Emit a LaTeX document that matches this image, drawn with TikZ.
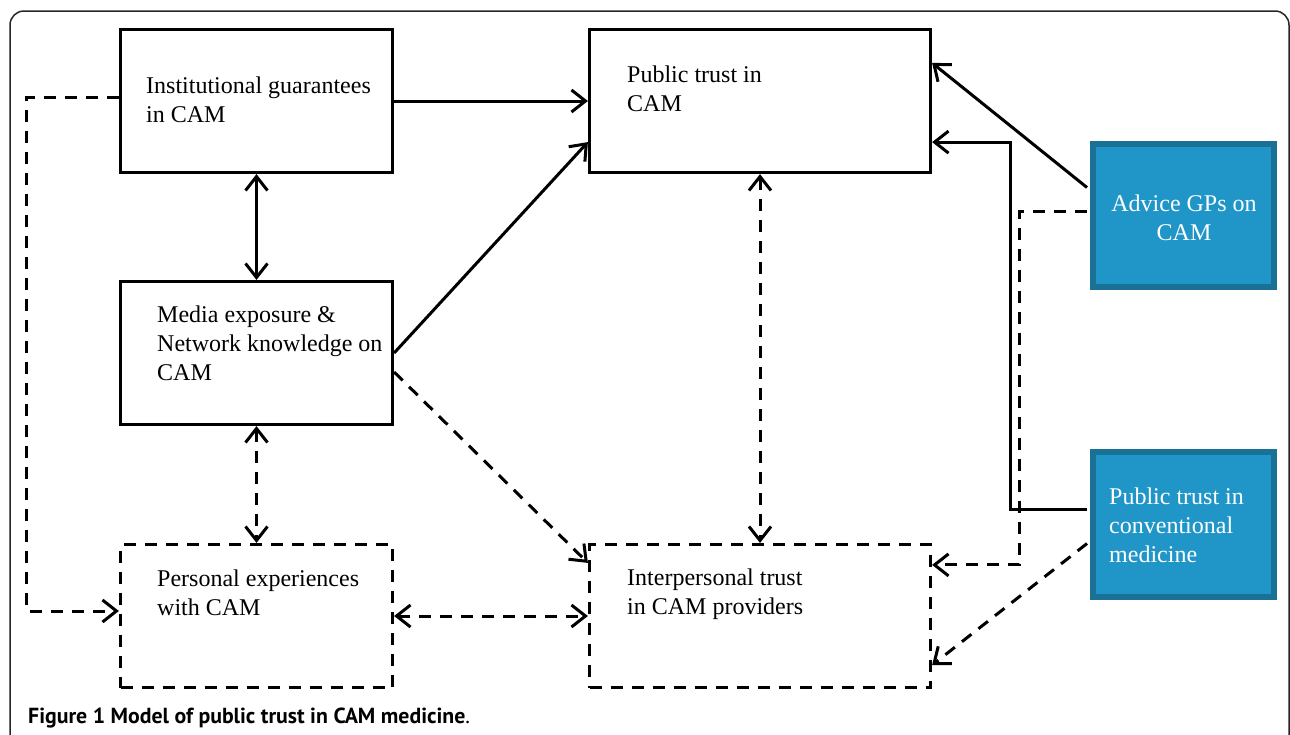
\documentclass[tikz,border=0pt]{standalone}
\usepackage{fontspec}
\setmainfont{Liberation Serif}
\newfontfamily\capfont{PT Sans}
\usetikzlibrary{arrows.meta,calc}
\definecolor{boxblue}{RGB}{32,150,200}
\definecolor{boxedge}{RGB}{27,112,150}
\tikzset{
  box/.style={draw=black, line width=3.2pt, rectangle, inner sep=0pt},
  dbox/.style={box, dash pattern=on 12pt off 9pt},
  bbox/.style={draw=boxedge, fill=boxblue, line width=6pt, rectangle, inner sep=0pt},
  lbl/.style={anchor=base west, inner sep=0pt, font=\fontsize{24}{29}\selectfont},
  conn/.style={draw=black, line width=3pt, -{Straight Barb[length=14pt,width=22pt]}},
  dconn/.style={conn, dash pattern=on 12pt off 9pt},
  bidir/.style={{Straight Barb[length=14pt,width=22pt]}-{Straight Barb[length=14pt,width=22pt]}},
}
\begin{document}
\begin{tikzpicture}[x=1pt,y=-1pt]
\useasboundingbox (0,0) rectangle (1290,734);
\draw[line width=1.5pt, rounded corners=14pt, black!85] (10,11) rectangle (1289,790);

% boxes
\node[box, minimum width=272pt, minimum height=143pt] (inst) at (256.5,101) {};
\node[box, minimum width=341pt, minimum height=143pt] (pub) at (760,101) {};
\node[box, minimum width=272pt, minimum height=143pt] (media) at (256.5,353) {};
\node[dbox, minimum width=272pt, minimum height=143pt] (pers) at (256.5,616) {};
\node[dbox, minimum width=341pt, minimum height=143pt] (inter) at (760,616) {};
\node[bbox, minimum width=181pt, minimum height=143pt] (adv) at (1183.5,215.5) {};
\node[bbox, minimum width=181pt, minimum height=145pt] (conv) at (1183.5,524.5) {};

% texts
\node[lbl] (tinst) at (146,93) {\begin{tabular}[t]{@{}l@{}}Institutional guarantees\\in CAM\end{tabular}};
\node[lbl] (tpub) at (627,82) {\begin{tabular}[t]{@{}l@{}}Public trust in\\CAM\end{tabular}};
\node[lbl] (tmedia) at (157,322) {\begin{tabular}[t]{@{}l@{}}Media exposure \&\\Network knowledge on\\CAM\end{tabular}};
\node[lbl] (tpers) at (157,586) {\begin{tabular}[t]{@{}l@{}}Personal experiences\\with CAM\end{tabular}};
\node[lbl] (tinter) at (627,585) {\begin{tabular}[t]{@{}l@{}}Interpersonal trust\\in CAM providers\end{tabular}};
\node[lbl, anchor=base, text=white] (tadv) at (1184,211) {\begin{tabular}[t]{@{}c@{}}Advice GPs on\\CAM\end{tabular}};
\node[lbl, text=white] (tconv) at (1109,504) {\begin{tabular}[t]{@{}l@{}}Public trust in\\conventional\\medicine\end{tabular}};

% coordinates
\coordinate (pubA) at ($(pub.south west)+(0,-32)$);
\coordinate (mediaB) at ($(media.east)+(0,19)$);
\coordinate (interA) at ($(inter.north west)+(0,20)$);
\coordinate (advA) at ($(adv.west)+(-3,-28)$);
\coordinate (pubB) at ($(pub.north east)+(0,35)$);
\coordinate (convA) at ($(conv.west)+(-3,-15)$);
\coordinate (advB) at ($(adv.west)+(-3,-4)$);
\coordinate (interB) at ($(inter.north east)+(0,22)$);
\coordinate (convB) at ($(conv.west)+(-3,19)$);
\coordinate (interC) at ($(inter.south east)+(0,-24)$);

% connectors
\draw[conn] (inst.east) -- (pub.west);
\draw[conn, bidir] (inst.south) -- (media.north);
\draw[conn] (media.east) -- (pubA);
\draw[dconn] (mediaB) -- (interA);
\draw[dconn, bidir] (media.south) -- (pers.north);
\draw[dconn, bidir] (pers.east) -- (inter.west);
\draw[dconn, bidir] (pub.south) -- (inter.north);
\draw[dconn] ($(inst.west)+(0,-4)$) -- ++(-92,0) |- ($(pers.west)+(0,-5)$);
\draw[conn] (advA) -- (pubB);
\draw[conn] (convA) -- ++(-77,0) |- (pubA -| pub.east);
\draw[dconn] (advB) -- ++(-68,0) |- (interB);
\draw[dconn] (convB) -- (interC);

% caption
\node[anchor=base west, inner sep=0pt, font=\capfont\fontsize{21.8}{26}\selectfont] (cap) at (28,723) {\textbf{Figure 1 Model of public trust in CAM medicine}.};
\end{tikzpicture}
\end{document}
